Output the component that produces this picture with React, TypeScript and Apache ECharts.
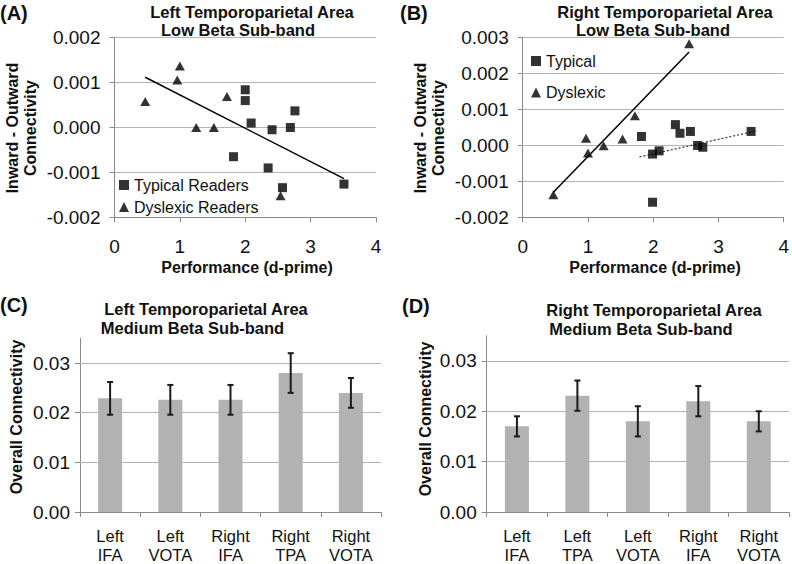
import React, { useEffect, useRef } from 'react';
import * as echarts from 'echarts';

// ---- Panel A: Left Temporoparietal Area, Low Beta ----
const typicalA: [number, number][] = [
  [2.0, 0.00084], [2.0, 0.0006], [2.09, 0.0001], [2.41, -0.00005], [2.69, 0.0],
  [2.76, 0.00037], [1.82, -0.00065], [2.35, -0.0009], [2.57, -0.00134], [3.51, -0.00126],
];
const dyslexicA: [number, number][] = [
  [0.47, 0.00058], [0.96, 0.00106], [1.0, 0.00137], [1.25, 0.0], [1.52, 0.0],
  [1.72, 0.00069], [2.54, -0.00152],
];
const trendA: [number, number][] = [[0.47, 0.00112], [3.51, -0.00114]];

// ---- Panel B: Right Temporoparietal Area, Low Beta ----
const typicalB: [number, number][] = [
  [1.82, 0.00025], [1.99, -0.00024], [2.09, -0.00015], [2.34, 0.00058], [2.41, 0.00034],
  [2.57, 0.00039], [2.68, 0.0], [2.76, -0.00005], [1.99, -0.00158], [3.5, 0.00039],
];
const dyslexicB: [number, number][] = [
  [0.47, -0.00137], [0.97, 0.0002], [1.0, -0.00021], [1.24, -0.00001], [1.53, 0.00018],
  [1.72, 0.00083], [2.55, 0.00283],
];
const trendDyslexicB: [number, number][] = [[0.47, -0.0013], [2.55, 0.0026]];
const trendTypicalB: [number, number][] = [[1.79, -0.00032], [3.59, 0.00041]];

// ---- Panel C: Left TPA, Medium Beta ----
const categoriesC = ['Left\nIFA', 'Left\nVOTA', 'Right\nIFA', 'Right\nTPA', 'Right\nVOTA'];
const meansC = [0.0229, 0.0226, 0.0226, 0.028, 0.024];
const errC = [0.0033, 0.003, 0.003, 0.004, 0.003];

// ---- Panel D: Right TPA, Medium Beta ----
const categoriesD = ['Left\nIFA', 'Left\nTPA', 'Left\nVOTA', 'Right\nIFA', 'Right\nVOTA'];
const meansD = [0.017, 0.0231, 0.018, 0.022, 0.018];
const errD = [0.002, 0.003, 0.003, 0.003, 0.002];

const barTicks = [0, 0.01, 0.02, 0.03];
const barGridLines = [0.01, 0.02, 0.03];

const FONT = '"Liberation Sans", Arial, sans-serif';
const AXIS = '#8a8a8a';
const GRID = '#b4b4b4';
const BAR = '#b2b2b2';

export default function App() {
  const ref = useRef<HTMLDivElement>(null);
  useEffect(() => {
    document.body.style.margin = '0';
    if (!ref.current) return;
    const chart = echarts.init(ref.current, undefined, { renderer: 'svg' });

    const scatterX = (gridIndex: number) => ({
      gridIndex, type: 'value', min: 0, max: 4, interval: 1,
      axisLine: { show: true, onZero: false, lineStyle: { color: AXIS } },
      axisTick: { show: true, length: 5, lineStyle: { color: AXIS } },
      axisLabel: { fontSize: 19, color: '#111', margin: 20, fontFamily: FONT },
      splitLine: { show: false },
    });
    const scatterY = (gridIndex: number, min: number, max: number) => ({
      gridIndex, type: 'value', min, max, interval: 0.001,
      axisLine: { show: true, onZero: false, lineStyle: { color: AXIS } },
      axisTick: { show: true, length: 5, lineStyle: { color: AXIS } },
      axisLabel: { fontSize: 19, color: '#111', margin: 14, fontFamily: FONT,
        formatter: (v: number) => v.toFixed(3) },
      splitLine: { show: true, lineStyle: { color: GRID, width: 1 } },
    });
    const catX = (gridIndex: number, data: string[]) => ({
      gridIndex, type: 'category', data,
      axisLine: { show: true, lineStyle: { color: AXIS } },
      axisTick: { show: true, length: 5, alignWithLabel: false, lineStyle: { color: AXIS } },
      axisLabel: { fontSize: 16.5, color: '#111', margin: 14, lineHeight: 19, fontFamily: FONT, interval: 0 },
    });
    const barY = (gridIndex: number) => ({
      gridIndex, type: 'value', min: 0, max: 0.035, interval: 0.01,
      axisLine: { show: true, lineStyle: { color: AXIS } },
      axisTick: { show: true, length: 5, lineStyle: { color: AXIS }, customValues: barTicks },
      axisLabel: { fontSize: 19, color: '#111', margin: 10, fontFamily: FONT,
        customValues: barTicks, formatter: (v: number) => v.toFixed(2) },
      splitLine: { show: false },
    });

    const errRender = (params: any, api: any) => {
      const x = api.value(0);
      const lo = api.coord([x, api.value(1)]);
      const hi = api.coord([x, api.value(2)]);
      const cap = 3;
      const st = { stroke: '#1a1a1a', lineWidth: 2 };
      return {
        type: 'group',
        children: [
          { type: 'line', shape: { x1: lo[0], y1: lo[1], x2: hi[0], y2: hi[1] }, style: st },
          { type: 'line', shape: { x1: hi[0] - cap, y1: hi[1], x2: hi[0] + cap, y2: hi[1] }, style: st },
          { type: 'line', shape: { x1: lo[0] - cap, y1: lo[1], x2: lo[0] + cap, y2: lo[1] }, style: st },
        ],
      };
    };

    const gridMark = {
      silent: true, symbol: 'none', z: 1,
      label: { show: false },
      lineStyle: { color: GRID, width: 1, type: 'solid' },
      data: barGridLines.map((v) => ({ yAxis: v })),
    };

    const txt = (text: string, x: number, y: number, opts: any = {}) => ({
      type: 'text', x, y, rotation: opts.rotation || 0,
      style: {
        text, fill: '#111', fontFamily: FONT,
        fontSize: opts.fontSize || 16, fontWeight: opts.fontWeight || 'bold',
        textAlign: opts.align || 'center', textVerticalAlign: 'middle',
      },
    });

    const option: any = {
      animation: false,
      textStyle: { fontFamily: FONT },
      grid: [
        { left: 114.5, top: 37.7, width: 261.5, height: 179.6 },
        { left: 522.7, top: 37.7, width: 261.6, height: 179.6 },
        { left: 80, top: 338.3, width: 301, height: 174.4 },
        { left: 486.7, top: 335.7, width: 302.3, height: 177 },
      ],
      xAxis: [scatterX(0), scatterX(1), catX(2, categoriesC), catX(3, categoriesD)],
      yAxis: [scatterY(0, -0.002, 0.002), scatterY(1, -0.002, 0.003), barY(2), barY(3)],
      legend: [
        {
          data: ['Typical Readers', 'Dyslexic Readers'], orient: 'vertical', left: 119, top: 177,
          itemWidth: 10, itemHeight: 10, itemGap: 6, padding: 0,
          textStyle: { fontSize: 16, color: '#111', fontFamily: FONT },
          selectedMode: false,
        },
        {
          data: ['Typical', 'Dyslexic'], orient: 'vertical', left: 531, top: 53,
          itemWidth: 10, itemHeight: 10, itemGap: 15.5, padding: 0,
          textStyle: { fontSize: 16, color: '#111', fontFamily: FONT },
          selectedMode: false,
        },
      ],
      series: [
        { name: 'Typical Readers', type: 'scatter', xAxisIndex: 0, yAxisIndex: 0, data: typicalA,
          symbol: 'rect', symbolSize: 9, itemStyle: { color: '#000' }, z: 5 },
        { name: 'Dyslexic Readers', type: 'scatter', xAxisIndex: 0, yAxisIndex: 0, data: dyslexicA,
          symbol: 'triangle', symbolSize: [10, 9], itemStyle: { color: '#000' }, z: 5 },
        { type: 'line', xAxisIndex: 0, yAxisIndex: 0, data: trendA, symbol: 'none',
          lineStyle: { color: '#000', width: 1.5 }, silent: true, z: 4 },
        { name: 'Typical', type: 'scatter', xAxisIndex: 1, yAxisIndex: 1, data: typicalB,
          symbol: 'rect', symbolSize: 9, itemStyle: { color: '#000' }, z: 5 },
        { name: 'Dyslexic', type: 'scatter', xAxisIndex: 1, yAxisIndex: 1, data: dyslexicB,
          symbol: 'triangle', symbolSize: [10, 9], itemStyle: { color: '#000' }, z: 5 },
        { type: 'line', xAxisIndex: 1, yAxisIndex: 1, data: trendDyslexicB, symbol: 'none',
          lineStyle: { color: '#000', width: 1.5 }, silent: true, z: 4 },
        { type: 'line', xAxisIndex: 1, yAxisIndex: 1, data: trendTypicalB, symbol: 'none',
          lineStyle: { color: '#333', width: 1.2, type: [2, 2] }, silent: true, z: 4 },
        { type: 'bar', xAxisIndex: 2, yAxisIndex: 2, data: meansC, barWidth: 24,
          itemStyle: { color: BAR }, z: 2, markLine: gridMark },
        { type: 'custom', xAxisIndex: 2, yAxisIndex: 2, renderItem: errRender, z: 10,
          data: meansC.map((m, i) => [i, m - errC[i], m + errC[i]]), encode: { x: 0, y: [1, 2] } },
        { type: 'bar', xAxisIndex: 3, yAxisIndex: 3, data: meansD, barWidth: 24,
          itemStyle: { color: BAR }, z: 2, markLine: gridMark },
        { type: 'custom', xAxisIndex: 3, yAxisIndex: 3, renderItem: errRender, z: 10,
          data: meansD.map((m, i) => [i, m - errD[i], m + errD[i]]), encode: { x: 0, y: [1, 2] } },
      ],
      graphic: [
        txt('(A)', 0, 13, { fontSize: 20, align: 'left' }),
        txt('(B)', 400, 13, { fontSize: 20, align: 'left' }),
        txt('(C)', 0, 305, { fontSize: 20, align: 'left' }),
        txt('(D)', 402, 306, { fontSize: 20, align: 'left' }),
        txt('Left Temporoparietal Area', 252, 12, { fontSize: 16.5 }),
        txt('Low Beta Sub-band', 238, 30, { fontSize: 16.5 }),
        txt('Right Temporoparietal Area', 665, 12, { fontSize: 16.5 }),
        txt('Low Beta Sub-band', 653, 30, { fontSize: 16.5 }),
        txt('Left Temporoparietal Area', 206, 309, { fontSize: 16.5 }),
        txt('Medium Beta Sub-band', 192.5, 328, { fontSize: 16.5 }),
        txt('Right Temporoparietal Area', 654, 310, { fontSize: 16.5 }),
        txt('Medium Beta Sub-band', 641, 329, { fontSize: 16.5 }),
        txt('Performance (d-prime)', 247, 267, { fontSize: 16 }),
        txt('Performance (d-prime)', 655, 267, { fontSize: 16 }),
        txt('Inward - Outward', 12, 128, { fontSize: 16, rotation: Math.PI / 2 }),
        txt('Connectivity', 30, 128, { fontSize: 16, rotation: Math.PI / 2 }),
        txt('Inward - Outward', 420, 128, { fontSize: 16, rotation: Math.PI / 2 }),
        txt('Connectivity', 438, 128, { fontSize: 16, rotation: Math.PI / 2 }),
        txt('Overall Connectivity', 16, 417, { fontSize: 16, rotation: Math.PI / 2 }),
        txt('Overall Connectivity', 425, 419, { fontSize: 16, rotation: Math.PI / 2 }),
      ],
    };
    chart.setOption(option);
    return () => chart.dispose();
  }, []);
  return <div ref={ref} style={{ width: 792, height: 564 }} />;
}
